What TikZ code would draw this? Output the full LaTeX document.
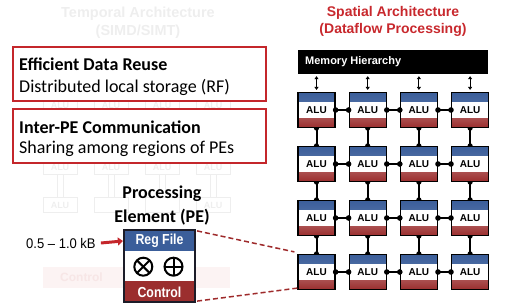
\documentclass[tikz,border=0pt]{standalone}
\usepackage{fontspec}
\setmainfont{Carlito}
\newfontfamily\arial{Liberation Sans}
\newfontfamily\arialn[FakeStretch=0.85]{Liberation Sans}
\newfontfamily\arialk[FakeStretch=0.93]{Liberation Sans}
\usetikzlibrary{arrows.meta,backgrounds}
\definecolor{alublue}{HTML}{3B5E9A}
\definecolor{alured}{HTML}{9B2E2E}
\definecolor{boxred}{HTML}{C4262B}
\definecolor{titlered}{HTML}{C8282D}
\definecolor{dashred}{HTML}{9E2A2B}
\definecolor{faint}{HTML}{EEEEEE}
\definecolor{faintred}{HTML}{FCF3F3}
\definecolor{faintredtext}{HTML}{F7E6E6}
\definecolor{pedark}{HTML}{1C1C28}
\tikzset{
  alubox/.style={draw=black, line width=1.2pt, minimum width=37pt, minimum height=35pt,
    inner sep=0pt, font=\arial\bfseries\fontsize{10}{12}\selectfont,
    path picture={
      \shade[top color=alublue, bottom color=alublue!75!white]
        (path picture bounding box.north west) rectangle ([yshift=-9pt]path picture bounding box.north east);
      \shade[top color=alured!85!white, bottom color=alured]
        (path picture bounding box.south west) rectangle ([yshift=9pt]path picture bounding box.south east);
    }},
  link/.style={line width=2pt, black},
  memarrow/.style={line width=1.1pt, {Triangle[length=3pt,width=4pt]}-{Triangle[length=3pt,width=4pt]}},
  infobox/.style={draw=boxred, line width=1.8pt, fill=white},
  infotitle/.style={anchor=west, inner sep=0pt, font=\bfseries\fontsize{18}{21}\selectfont},
  infotext/.style={anchor=west, inner sep=0pt, font=\fontsize{18}{21}\selectfont},
  faintalu/.style={draw=faint, line width=1pt, minimum width=34pt, minimum height=15pt, inner sep=0pt,
    text=faint, font=\arial\bfseries\fontsize{9}{10}\selectfont},
  pebox/.style={draw=pedark, line width=2.2pt, minimum width=71pt, minimum height=72pt, inner sep=0pt, fill=white,
    path picture={
      \fill[alublue] (path picture bounding box.north west) rectangle ([yshift=-21pt]path picture bounding box.north east);
      \fill[alured] (path picture bounding box.south west) rectangle ([yshift=21pt]path picture bounding box.south east);
    }},
  pelabel/.style={text=white, inner sep=0pt, font=\arialn\bfseries\fontsize{14.5}{16}\selectfont},
  peop/.style={line width=2pt, black},
  dashlink/.style={dashred, line width=1.5pt, dash pattern=on 5pt off 3pt},
}
\begin{document}
\begin{tikzpicture}[x=1pt,y=-1pt]
\useasboundingbox (0,0) rectangle (525,305);

% ---- faint temporal architecture (background) ----
\node[text=faint, align=center, font=\arial\bfseries\fontsize{14.5}{18}\selectfont] (temporal) at (138,23)
  {Temporal Architecture\\(SIMD/SIMT)};
\foreach \c/\t in {1/ALU,2/,3/,4/ALU} {
  \node[faintalu] (fa\c) at ({60+51*(\c-1)},105) {ALU};
  \node[faintalu] (fb\c) at ({60+51*(\c-1)},167) {ALU};
  \node[faintalu] (fc\c) at ({60+51*(\c-1)},205) {\t};
  \draw[faint, line width=1pt] ([xshift=-3pt]fb\c.south) -- ([xshift=-3pt]fc\c.north);
  \draw[faint, line width=1pt] ([xshift=3pt]fb\c.south) -- ([xshift=3pt]fc\c.north);
}
\node[fill=faintred, minimum width=187pt, minimum height=21pt, inner sep=0pt, text=faintredtext,
  font=\arial\bfseries\fontsize{12}{14}\selectfont] (fctrl) at (136.5,277.5) {\hspace*{-110pt}Control};

% ---- info boxes ----
\node[infobox, minimum width=253pt, minimum height=54pt, inner sep=0pt] (box1) at (139.5,74) {};
\node[infotitle] (reuse) at (19,64) {Efficient Data Reuse};
\node[infotext] (reusetxt) at (19,87) {Distributed local storage (RF)};
\node[infobox, minimum width=253pt, minimum height=54pt, inner sep=0pt] (box2) at (139.5,136) {};
\node[infotitle] (comm) at (19,127) {Inter-PE Communication};
\node[infotext] (commtxt) at (19,149) {Sharing among regions of PEs};

% ---- spatial architecture ----
\node[text=titlered, align=center, font=\arial\bfseries\fontsize{14}{17}\selectfont] (spatial) at (393,21)
  {Spatial Architecture\\(Dataflow Processing)};
\node[fill=black, minimum width=190pt, minimum height=24pt, inner sep=0pt] (mem) at (393,62) {};
\node[anchor=west, text=white, inner sep=0pt, font=\arial\bfseries\fontsize{11}{13}\selectfont] (memtxt) at (305,62) {Memory Hierarchy};

\foreach \r in {1,...,4} \foreach \c in {1,...,4}
  \node[alubox] (a\r\c) at ({316.5+51.2*(\c-1)},{110+54*(\r-1)}) {ALU};

\begin{scope}[on background layer]
  \foreach \r in {1,...,4} \foreach \c/\d in {1/2,2/3,3/4} {
    \draw[link] (a\r\c.east) -- (a\r\d.west);
    \fill (a\r\c.east) circle (2.8);
    \fill (a\r\d.west) circle (2.8);
  }
  \foreach \r/\s in {1/2,2/3,3/4} \foreach \c in {1,...,4} {
    \draw[link] (a\r\c.south) -- (a\s\c.north);
    \fill (a\r\c.south) circle (2.6);
    \fill (a\s\c.north) circle (2.6);
  }
\end{scope}
\foreach \c in {1,...,4}
  \draw[memarrow] ([yshift=-2pt]mem.south -| a1\c) -- ([yshift=2pt]a1\c.north);

% ---- processing element ----
\node[align=center, font=\bfseries\fontsize{18}{24}\selectfont] (petitle) at (162,206) {Processing\\Element (PE)};
\node[pebox] (pe) at (159.5,266) {};
\node[pelabel] (regfile) at (159.5,241) {Reg File};
\node[pelabel] (control) at (159.5,292) {Control};
\draw[peop] (143.3,266.7) circle (9);
\draw[peop] ([shift={(-6.4,-6.4)}]143.3,266.7) -- ([shift={(6.4,6.4)}]143.3,266.7);
\draw[peop] ([shift={(-6.4,6.4)}]143.3,266.7) -- ([shift={(6.4,-6.4)}]143.3,266.7);
\draw[peop] (173.5,266.7) circle (9);
\draw[peop] (164.5,266.7) -- (182.5,266.7);
\draw[peop] (173.5,257.7) -- (173.5,275.7);

\node[anchor=west, inner sep=0pt, font=\arialk\fontsize{14}{16}\selectfont] (kb) at (26,243) {0.5 – 1.0 kB};
\draw[boxred, line width=3pt, -{Triangle[length=5pt,width=8pt]}] ([xshift=5pt]kb.east) -- (regfile.west -| pe.west);

\draw[dashlink] ([xshift=1pt,yshift=-2pt]pe.north east) -- ([xshift=-3pt,yshift=2pt]a41.north west);
\draw[dashlink] ([xshift=1pt,yshift=2pt]pe.south east) -- ([yshift=2pt]a41.south west);
\end{tikzpicture}
\end{document}
